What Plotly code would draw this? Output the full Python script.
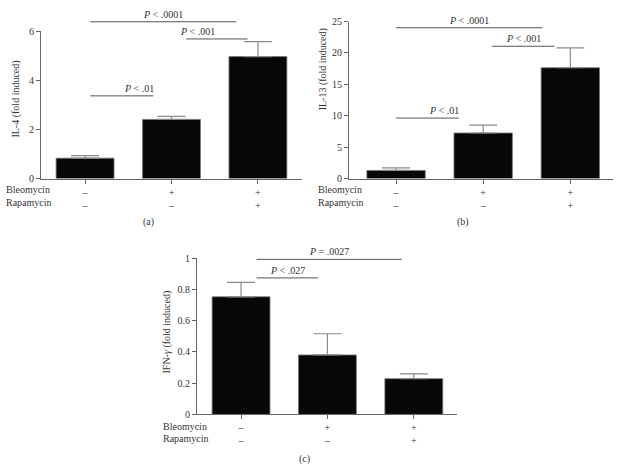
import plotly.graph_objects as go

W, H = 618, 473

# ---- data ----
groups = [0, 1, 2]
bleo_signs = ["–", "+", "+"]
rapa_signs = ["–", "–", "+"]

il4_mean = [0.83, 2.41, 4.97]
il4_err = [0.10, 0.12, 0.61]
il13_mean = [1.29, 7.25, 17.65]
il13_err = [0.41, 1.25, 3.15]
ifn_mean = [0.754, 0.381, 0.229]
ifn_err = [0.092, 0.136, 0.031]

# significance brackets: (x_start, x_end, y_level, label)
il4_sig = [(0.06, 1.75, 6.39, "<i>P</i> < .0001"),
           (1.17, 1.88, 5.69, "<i>P</i> < .001"),
           (0.06, 0.79, 3.37, "<i>P</i> < .01")]
il13_sig = [(0.0, 1.68, 24.02, "<i>P</i> < .0001"),
            (1.10, 1.82, 21.07, "<i>P</i> < .001"),
            (0.0, 0.72, 9.63, "<i>P</i> < .01")]
ifn_sig = [(0.18, 1.86, 0.994, "<i>P</i> = .0027"),
           (0.18, 0.89, 0.875, "<i>P</i> < .027")]

FONT = "Liberation Serif"
TXT = "#333333"
AX = "#666666"

def px_x(a, b):
    return [a / W, b / W]

def px_y(top, bottom):
    return [1 - bottom / H, 1 - top / H]

panels = [
    dict(mean=il4_mean, err=il4_err, sig=il4_sig, ymax=6, dtick=2,
         xdom=px_x(41, 302), ydom=px_y(26, 177), xr=[-0.51, 2.51],
         ylabel="IL-4 (fold induced)", ylab_x=16, ylab_y=96,
         lab_x=4, cap="(a)", cap_x=148, cap_y=222, rows_y=(188, 202)),
    dict(mean=il13_mean, err=il13_err, sig=il13_sig, ymax=25, dtick=5,
         xdom=px_x(349, 613), ydom=px_y(16, 177), xr=[-0.54, 2.49],
         ylabel="IL-13 (fold induced)", ylab_x=323, ylab_y=65,
         lab_x=316, cap="(b)", cap_x=463, cap_y=222, rows_y=(188, 202)),
    dict(mean=ifn_mean, err=ifn_err, sig=ifn_sig, ymax=1, dtick=0.2,
         xdom=px_x(197, 457), ydom=px_y(259, 419), xr=[-0.51, 2.50],
         ylabel="IFN-<i>γ</i> (fold induced)", ylab_x=167, ylab_y=335,
         lab_x=161, cap="(c)", cap_x=304, cap_y=465, rows_y=(431, 444)),
]

fig = go.Figure()
layout = dict(width=W, height=H, margin=dict(l=0, r=0, t=0, b=0),
              paper_bgcolor="white", plot_bgcolor="white", showlegend=False,
              font=dict(family=FONT, size=10, color=TXT))
shapes, annos = [], []

for i, p in enumerate(panels, start=1):
    xa = "x" if i == 1 else f"x{i}"
    ya = "y" if i == 1 else f"y{i}"
    fig.add_trace(go.Bar(
        x=groups, y=p["mean"], width=0.67, xaxis=xa, yaxis=ya,
        marker=dict(color="#050708", line=dict(color="#777777", width=0.8)),
        error_y=dict(type="data", array=p["err"], arrayminus=[0, 0, 0],
                     symmetric=False, color="#8a8a8a", thickness=1.2, width=14),
    ))
    tt = [f"{b}<br>{r}" for b, r in zip(bleo_signs, rapa_signs)]
    layout["xaxis" if i == 1 else f"xaxis{i}"] = dict(
        domain=p["xdom"], range=p["xr"], anchor=ya, tickmode="array",
        tickvals=groups, ticktext=tt, ticks="outside", ticklen=4,
        tickcolor=AX, showline=True, linecolor=AX, linewidth=1,
        showgrid=False, zeroline=False, fixedrange=True,
        tickfont=dict(family=FONT, size=10, color=TXT), ticklabelstandoff=0)
    layout["yaxis" if i == 1 else f"yaxis{i}"] = dict(
        domain=p["ydom"], range=[0, p["ymax"]], anchor=xa, dtick=p["dtick"],
        tick0=0, ticks="outside", ticklen=4, tickcolor=AX, showline=True,
        linecolor=AX, linewidth=1, showgrid=False, zeroline=False,
        fixedrange=True, tickfont=dict(family=FONT, size=10, color=TXT))
    # significance bars in axis-domain units
    x0r, x1r = p["xr"]
    for (xs, xe, yl, lab) in p["sig"]:
        fx0 = (xs - x0r) / (x1r - x0r)
        fx1 = (xe - x0r) / (x1r - x0r)
        fy = yl / p["ymax"]
        shapes.append(dict(type="line", xref=f"{xa} domain", yref=f"{ya} domain",
                           x0=fx0, x1=fx1, y0=fy, y1=fy,
                           line=dict(color="#555555", width=1)))
        annos.append(dict(xref=f"{xa} domain", yref=f"{ya} domain",
                          x=(fx0 + fx1) / 2, y=fy, text=lab, showarrow=False,
                          yanchor="bottom", yshift=0,
                          font=dict(family=FONT, size=10, color=TXT)))
    # row labels
    for yy, lab in zip(p["rows_y"], ["Bleomycin", "Rapamycin"]):
        annos.append(dict(xref="paper", yref="paper", x=p["lab_x"] / W,
                          y=1 - yy / H, text=lab, showarrow=False,
                          xanchor="left", yanchor="middle",
                          font=dict(family=FONT, size=10, color=TXT)))
    # y label
    annos.append(dict(xref="paper", yref="paper", x=p["ylab_x"] / W,
                      y=1 - p["ylab_y"] / H, text=p["ylabel"], showarrow=False,
                      textangle=-90, xanchor="center", yanchor="middle",
                      font=dict(family=FONT, size=10, color=TXT)))
    # caption
    annos.append(dict(xref="paper", yref="paper", x=p["cap_x"] / W,
                      y=1 - p["cap_y"] / H, text=p["cap"], showarrow=False,
                      xanchor="center", yanchor="middle",
                      font=dict(family=FONT, size=10, color=TXT)))

layout["shapes"] = shapes
layout["annotations"] = annos
fig.update_layout(**layout)
fig.write_html("out.html", config={"displayModeBar": False},
               post_script="document.body.style.margin='0';")
